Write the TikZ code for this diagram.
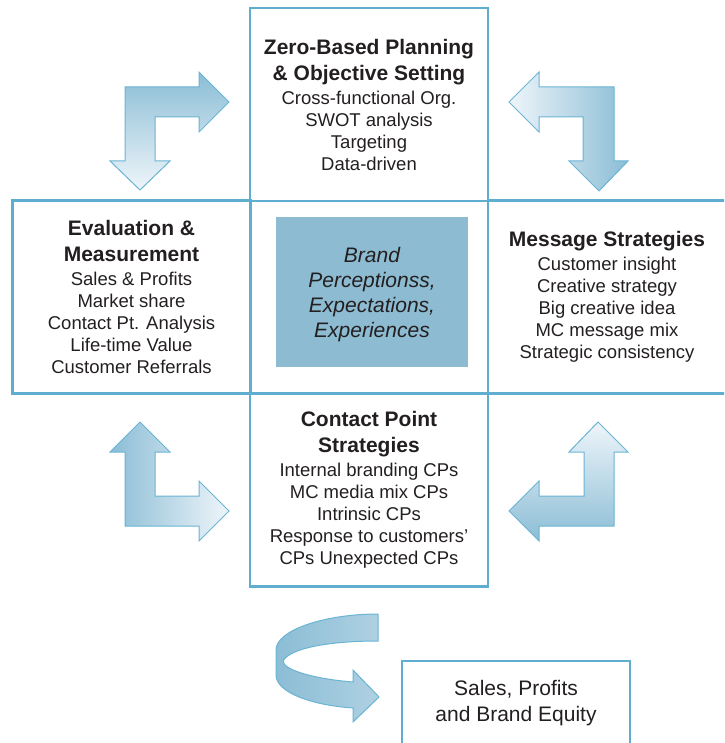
\documentclass[tikz,border=0pt]{standalone}
\usepackage{fontspec}
\setmainfont{Liberation Sans}
\usepackage{tikz}
\usetikzlibrary{positioning}
\definecolor{edge}{HTML}{5FAED0}
\definecolor{arrowedge}{HTML}{6AB4D4}
\definecolor{arrowdark}{HTML}{8BBDD5}
\definecolor{arrowlight}{HTML}{EEF5FA}
\definecolor{arrowmid}{HTML}{AFD1E2}
\definecolor{core}{HTML}{8DBBD1}
\definecolor{ink}{HTML}{231F20}
\newcommand{\bodyf}{\fontsize{18.5}{22}\selectfont}
\newcommand{\hd}[1]{{\fontsize{21}{26}\selectfont\bfseries #1}}
\tikzset{box/.style={draw=edge,line width=2.5pt,minimum width=238pt,minimum height=193pt,
    align=center,text=ink,font=\bodyf,inner sep=0pt},
  corebox/.style={fill=core,minimum width=192pt,minimum height=150pt,align=center,text=ink,
    font=\fontsize{21}{25}\selectfont\itshape,inner sep=0pt},
  outcome/.style={draw=edge,line width=2.5pt,minimum width=228pt,minimum height=84pt,
    align=center,text=ink,font=\fontsize{21}{26}\selectfont,inner sep=0pt},
  turnarrow/.style={draw=arrowedge,line width=1pt,line join=miter}}

\begin{document}
\begin{tikzpicture}[x=1pt,y=-1pt]
\useasboundingbox (0,0) rectangle (724,743);
\clip (0,0) rectangle (724,743);
% the four quadrants
\node[box] (plan) at (369,104.5) {\hd{Zero-Based Planning}\\[4pt]\hd{\& Objective Setting}\\[2pt]
  Cross-functional Org.\\SWOT analysis\\Targeting\\Data-driven};
\node[box] (eval) at (131.5,297) {\hd{Evaluation \&}\\[4pt]\hd{Measurement}\\[2pt]
  Sales \& Profits\\Market share\\Contact Pt. Analysis\\Life-time Value\\Customer Referrals};
\node[box] (msg) at (607,297) {\hd{Message Strategies}\\[2pt]
  Customer insight\\Creative strategy\\Big creative idea\\MC message mix\\Strategic consistency};
\node[box] (cp) at (369,490) {\hd{Contact Point}\\[4pt]\hd{Strategies}\\[2pt]
  Internal branding CPs\\MC media mix CPs\\Intrinsic CPs\\Response to customers'\\CPs Unexpected CPs};
\node[corebox] (brand) at (372,292) {};
\node[align=center,text=ink,font=\fontsize{21}{25}\selectfont\itshape,inner sep=0pt]
  (brandtext) at (372,295) {Brand\\Perceptionss,\\Expectations,\\Experiences};
\node[outcome] (sales) at (516,703) {Sales, Profits\\and Brand Equity};
% turning arrows
\path[turnarrow,top color=arrowdark,bottom color=arrowlight]
  (125,87) -- (199,87) -- (199,72) -- (229,102) -- (199,132) -- (199,117) -- (155,117)
  -- (155,161) -- (170,161) -- (140,190) -- (110,161) -- (125,161) -- cycle;
\path[turnarrow,left color=arrowlight,right color=arrowdark]
  (509,102) -- (539,72) -- (539,87) -- (614,87) -- (614,161) -- (628,161) -- (599,191)
  -- (569,161) -- (583,161) -- (583,117) -- (539,117) -- (539,132) -- cycle;
\path[turnarrow,left color=arrowdark,right color=arrowlight]
  (140,422) -- (170,452) -- (155,452) -- (155,496) -- (199,496) -- (199,481) -- (229,511)
  -- (199,541) -- (199,526) -- (125,526) -- (125,452) -- (110,452) -- cycle;
\path[turnarrow,top color=arrowlight,bottom color=arrowdark]
  (598,422) -- (628,452) -- (614,452) -- (614,526) -- (539,526) -- (539,541) -- (509,511)
  -- (539,481) -- (539,496) -- (584,496) -- (584,452) -- (569,452) -- cycle;
% curl to the outcome
\path[turnarrow,left color=arrowdark,right color=arrowmid]
  (378,614) .. controls (325,614) and (276,630) .. (276,650) -- (276,675)
  .. controls (276,692) and (310,705) .. (353,708) -- (353,722) -- (379,697) -- (353,670)
  -- (353,682) .. controls (315,679) and (283,670) .. (283,661)
  .. controls (290,648) and (330,641) .. (378,641) -- cycle;
\end{tikzpicture}
\end{document}
